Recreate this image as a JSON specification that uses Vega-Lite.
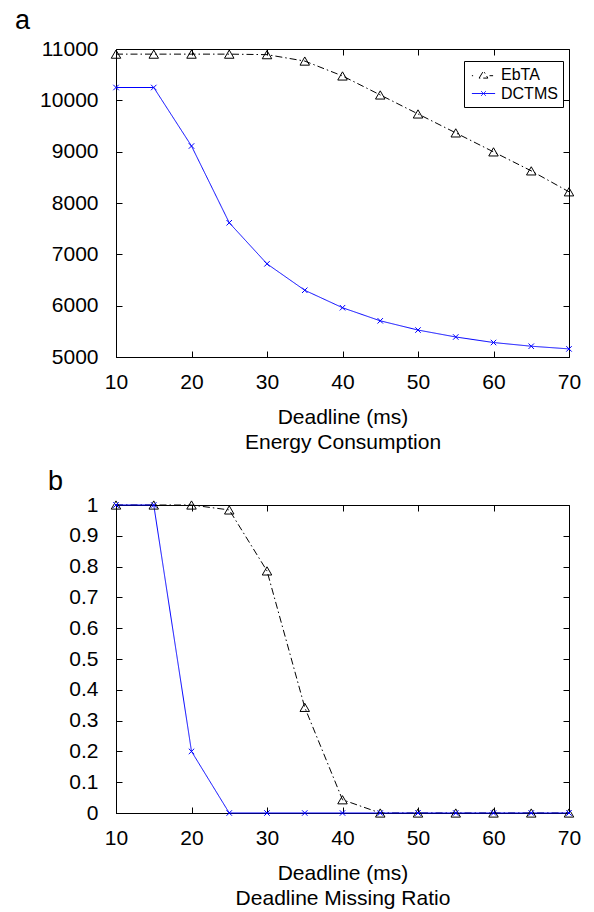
{
  "$schema": "https://vega.github.io/schema/vega-lite/v6.json",
  "padding": {"left": 14, "top": 6, "right": 5, "bottom": 0},
  "spacing": 14,
  "datasets": {
    "energy": [
      {"deadline": 10, "series": "EbTA", "value": 10900},
      {"deadline": 15, "series": "EbTA", "value": 10900},
      {"deadline": 20, "series": "EbTA", "value": 10900},
      {"deadline": 25, "series": "EbTA", "value": 10900},
      {"deadline": 30, "series": "EbTA", "value": 10890},
      {"deadline": 35, "series": "EbTA", "value": 10765},
      {"deadline": 40, "series": "EbTA", "value": 10475},
      {"deadline": 45, "series": "EbTA", "value": 10105},
      {"deadline": 50, "series": "EbTA", "value": 9735},
      {"deadline": 55, "series": "EbTA", "value": 9366},
      {"deadline": 60, "series": "EbTA", "value": 8996},
      {"deadline": 65, "series": "EbTA", "value": 8626},
      {"deadline": 70, "series": "EbTA", "value": 8218},
      {"deadline": 10, "series": "DCTMS", "value": 10250},
      {"deadline": 15, "series": "DCTMS", "value": 10250},
      {"deadline": 20, "series": "DCTMS", "value": 9110},
      {"deadline": 25, "series": "DCTMS", "value": 7615},
      {"deadline": 30, "series": "DCTMS", "value": 6815},
      {"deadline": 35, "series": "DCTMS", "value": 6300},
      {"deadline": 40, "series": "DCTMS", "value": 5960},
      {"deadline": 45, "series": "DCTMS", "value": 5705},
      {"deadline": 50, "series": "DCTMS", "value": 5525},
      {"deadline": 55, "series": "DCTMS", "value": 5390},
      {"deadline": 60, "series": "DCTMS", "value": 5282},
      {"deadline": 65, "series": "DCTMS", "value": 5210},
      {"deadline": 70, "series": "DCTMS", "value": 5158}
    ],
    "miss": [
      {"deadline": 10, "series": "EbTA", "value": 1},
      {"deadline": 15, "series": "EbTA", "value": 1},
      {"deadline": 20, "series": "EbTA", "value": 1},
      {"deadline": 25, "series": "EbTA", "value": 0.984},
      {"deadline": 30, "series": "EbTA", "value": 0.786},
      {"deadline": 35, "series": "EbTA", "value": 0.343},
      {"deadline": 40, "series": "EbTA", "value": 0.043},
      {"deadline": 45, "series": "EbTA", "value": 0},
      {"deadline": 50, "series": "EbTA", "value": 0},
      {"deadline": 55, "series": "EbTA", "value": 0},
      {"deadline": 60, "series": "EbTA", "value": 0},
      {"deadline": 65, "series": "EbTA", "value": 0},
      {"deadline": 70, "series": "EbTA", "value": 0},
      {"deadline": 10, "series": "DCTMS", "value": 1},
      {"deadline": 15, "series": "DCTMS", "value": 1},
      {"deadline": 20, "series": "DCTMS", "value": 0.2},
      {"deadline": 25, "series": "DCTMS", "value": 0},
      {"deadline": 30, "series": "DCTMS", "value": 0},
      {"deadline": 35, "series": "DCTMS", "value": 0},
      {"deadline": 40, "series": "DCTMS", "value": 0},
      {"deadline": 45, "series": "DCTMS", "value": 0},
      {"deadline": 50, "series": "DCTMS", "value": 0},
      {"deadline": 55, "series": "DCTMS", "value": 0},
      {"deadline": 60, "series": "DCTMS", "value": 0},
      {"deadline": 65, "series": "DCTMS", "value": 0},
      {"deadline": 70, "series": "DCTMS", "value": 0}
    ]
  },
  "config": {
    "font": "Liberation Sans",
    "view": {"stroke": "black", "strokeWidth": 1},
    "axis": {
      "grid": false,
      "domainColor": "black",
      "tickColor": "black",
      "labelColor": "black",
      "titleColor": "black",
      "labelFont": "Liberation Sans",
      "titleFont": "Liberation Sans",
      "labelFontSize": 21,
      "titleFontSize": 21,
      "titleFontWeight": "normal",
      "tickSize": -6,
      "labelFlush": false,
      "labelOverlap": false
    },
    "axisX": {"labelPadding": 20},
    "axisY": {"labelPadding": 24},
    "legend": {
      "labelFont": "Liberation Sans",
      "labelFontSize": 16,
      "labelColor": "black",
      "strokeColor": "black",
      "fillColor": "white",
      "padding": 5,
      "symbolSize": 256,
      "rowPadding": 2,
      "symbolOffset": 6,
      "labelOffset": 9
    },
    "title": {"font": "Liberation Sans", "fontSize": 27, "fontWeight": "normal", "color": "black"}
  },
  "vconcat": [
    {
      "width": 453,
      "height": 308,
      "title": {"text": "a", "anchor": "start", "frame": "group", "dx": -101, "offset": 3},
      "data": {"name": "energy"},
      "layer": [
        {
          "mark": {"type": "line", "strokeWidth": 1, "clip": false},
          "encoding": {
            "x": {"field": "deadline", "type": "quantitative", "scale": {"domain": [10, 70], "nice": false},
                  "axis": {"values": [10, 20, 30, 40, 50, 60, 70], "title": ["Deadline (ms)", "Energy Consumption"], "titlePadding": 14, "titleLineHeight": 25}},
            "y": {"field": "value", "type": "quantitative", "scale": {"domain": [5000, 11000], "nice": false, "zero": false},
                  "axis": {"values": [5000, 6000, 7000, 8000, 9000, 10000, 11000], "title": null, "format": "d"}},
            "color": {"field": "series", "type": "nominal", "scale": {"domain": ["EbTA", "DCTMS"], "range": ["black", "#0000ff"]},
                      "legend": {"title": null, "orient": "none", "legendX": 348, "legendY": 12,
                                 "encode": {"symbols": {"update": {
                                   "shape": {"signal": "datum.value === 'EbTA' ? 'M-1.45,0.15L-1.3,0.15M-0.55,0.45L0,-0.45L0.55,0.45ZM0.75,0.15L1.2,0.15' : 'M-1.45,0L1.45,0M-0.3,-0.3L0.3,0.3M-0.3,0.3L0.3,-0.3'"},
                                   "size": {"value": 256},
                                   "strokeDash": {"value": []},
                                   "fill": {"value": "transparent"},
                                   "strokeWidth": {"value": 1}}}}}},
            "strokeDash": {"field": "series", "type": "nominal", "scale": {"domain": ["EbTA", "DCTMS"], "range": [[7, 3, 1.5, 3], [1, 0]]}, "legend": null}
          }
        },
        {
          "transform": [{"filter": "datum.series === 'EbTA'"}],
          "mark": {"type": "point", "filled": false, "strokeWidth": 1, "opacity": 1, "clip": false, "shape": "triangle-up", "size": 90, "color": "black"},
          "encoding": {
            "x": {"field": "deadline", "type": "quantitative", "axis": {"orient": "top", "values": [10, 20, 30, 40, 50, 60, 70], "labels": false, "title": null, "domain": false}},
            "y": {"field": "value", "type": "quantitative", "axis": {"orient": "right", "values": [5000, 6000, 7000, 8000, 9000, 10000, 11000], "labels": false, "title": null, "domain": false}}
          }
        },
        {
          "transform": [{"filter": "datum.series === 'DCTMS'"}],
          "mark": {"type": "point", "filled": false, "strokeWidth": 1, "opacity": 1, "clip": false, "shape": "M-1,-1L1,1M-1,1L1,-1", "size": 30, "color": "#0000ff"},
          "encoding": {
            "x": {"field": "deadline", "type": "quantitative", "axis": null},
            "y": {"field": "value", "type": "quantitative", "axis": null}
          }
        }
      ],
      "resolve": {"axis": {"x": "independent", "y": "independent"}}
    },
    {
      "width": 453,
      "height": 308,
      "title": {"text": "b", "anchor": "start", "frame": "group", "dx": -68, "offset": -2},
      "data": {"name": "miss"},
      "layer": [
        {
          "mark": {"type": "line", "strokeWidth": 1, "clip": false},
          "encoding": {
            "x": {"field": "deadline", "type": "quantitative", "scale": {"domain": [10, 70], "nice": false},
                  "axis": {"values": [10, 20, 30, 40, 50, 60, 70], "title": ["Deadline (ms)", "Deadline Missing Ratio"], "titlePadding": 14, "titleLineHeight": 25}},
            "y": {"field": "value", "type": "quantitative", "scale": {"domain": [0, 1], "nice": false},
                  "axis": {"values": [0, 0.1, 0.2, 0.3, 0.4, 0.5, 0.6, 0.7, 0.8, 0.9, 1], "title": null, "format": "~g"}},
            "color": {"field": "series", "type": "nominal", "scale": {"domain": ["EbTA", "DCTMS"], "range": ["black", "#0000ff"]},
                      "legend": {"title": null, "orient": "none", "legendX": 341, "legendY": 46,
                                 "encode": {"symbols": {"update": {
                                   "shape": {"signal": "datum.value === 'EbTA' ? 'M-1.45,0.15L-1.3,0.15M-0.55,0.45L0,-0.45L0.55,0.45ZM0.75,0.15L1.2,0.15' : 'M-1.45,0L1.45,0M-0.3,-0.3L0.3,0.3M-0.3,0.3L0.3,-0.3'"},
                                   "size": {"value": 256},
                                   "strokeDash": {"value": []},
                                   "fill": {"value": "transparent"},
                                   "strokeWidth": {"value": 1}}}}}},
            "strokeDash": {"field": "series", "type": "nominal", "scale": {"domain": ["EbTA", "DCTMS"], "range": [[7, 3, 1.5, 3], [1, 0]]}, "legend": null}
          }
        },
        {
          "transform": [{"filter": "datum.series === 'EbTA'"}],
          "mark": {"type": "point", "filled": false, "strokeWidth": 1, "opacity": 1, "clip": false, "shape": "triangle-up", "size": 90, "color": "black"},
          "encoding": {
            "x": {"field": "deadline", "type": "quantitative", "axis": {"orient": "top", "values": [10, 20, 30, 40, 50, 60, 70], "labels": false, "title": null, "domain": false}},
            "y": {"field": "value", "type": "quantitative", "axis": {"orient": "right", "values": [0, 0.1, 0.2, 0.3, 0.4, 0.5, 0.6, 0.7, 0.8, 0.9, 1], "labels": false, "title": null, "domain": false}}
          }
        },
        {
          "transform": [{"filter": "datum.series === 'DCTMS'"}],
          "mark": {"type": "point", "filled": false, "strokeWidth": 1, "opacity": 1, "clip": false, "shape": "M-1,-1L1,1M-1,1L1,-1", "size": 30, "color": "#0000ff"},
          "encoding": {
            "x": {"field": "deadline", "type": "quantitative", "axis": null},
            "y": {"field": "value", "type": "quantitative", "axis": null}
          }
        }
      ],
      "resolve": {"axis": {"x": "independent", "y": "independent"}}
    }
  ]
}
